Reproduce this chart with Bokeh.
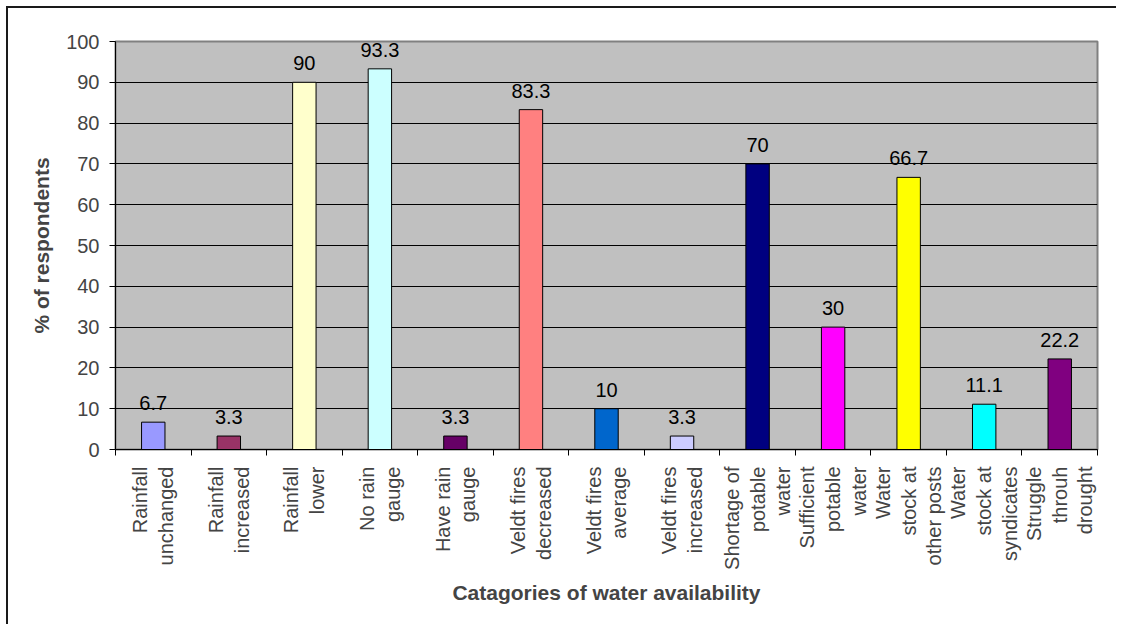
import numpy as np
from bokeh.plotting import figure
from bokeh.core.properties import value
from bokeh.models import (ColumnDataSource, FactorRange, Range1d, LinearAxis,
                          CategoricalAxis, FixedTicker, LabelSet)
from bokeh.embed import file_html
from bokeh.resources import INLINE

# category names as shown on the axis (wrapped like the original)
categories = [
    "Rainfall\nunchanged", "Rainfall\nincreased", "Rainfall\nlower", "No rain\ngauge",
    "Have rain\ngauge", "Veldt fires\ndecreased", "Veldt fires\naverage",
    "Veldt fires\nincreased", "Shortage of\npotable\nwater", "Sufficient\npotable\nwater",
    "Water\nstock at\nother posts", "Water\nstock at\nsyndicates", "Struggle\nthrouh\ndrought",
]
values = [6.7, 3.3, 90, 93.3, 3.3, 83.3, 10, 3.3, 70, 30, 66.7, 11.1, 22.2]
colors = ["#9999FF", "#993366", "#FFFFCC", "#CCFFFF", "#660066", "#FF8080", "#0066CC",
          "#CCCCFF", "#000080", "#FF00FF", "#FFFF00", "#00FFFF", "#800080"]
y_ticks = [0, 10, 20, 30, 40, 50, 60, 70, 80, 90, 100]

FONT = "Liberation Sans"

source = ColumnDataSource(dict(
    cat=categories, val=values, color=colors,
    label=[f"{v:g}" for v in values],
))

p = figure(width=1110, height=618, x_range=FactorRange(*categories),
           y_range=Range1d(0, 100), output_backend="svg", toolbar_location=None,
           x_axis_location=None, min_border_left=107, min_border_top=33,
           min_border_right=21, min_border_bottom=177)
p.styles = {"border-top": "2px solid #1a1a1a", "border-left": "2px solid #1a1a1a",
            "margin-left": "6px", "margin-top": "6px"}

p.background_fill_color = "#C0C0C0"
p.border_fill_color = "white"
p.outline_line_color = "#808080"
p.outline_line_width = 2

p.xgrid.grid_line_color = None
p.ygrid.grid_line_color = "black"
p.ygrid.grid_line_width = 1
p.ygrid.ticker = FixedTicker(ticks=y_ticks)

p.vbar(x="cat", top="val", width=0.31, source=source, fill_color="color",
       line_color="black", line_width=1)

bar_labels = LabelSet(x="cat", y="val", text="label", source=source, text_align="center",
                      text_baseline="bottom", y_offset=12, text_font=value(FONT),
                      text_font_size="20px", text_color="black")
p.add_layout(bar_labels)

# y axis
ya = p.yaxis[0]
ya.ticker = FixedTicker(ticks=y_ticks)
ya.axis_line_color = "black"
ya.major_tick_line_color = "black"
ya.major_tick_out = 6
ya.major_tick_in = 0
ya.minor_tick_line_color = None
ya.major_label_text_font = FONT
ya.major_label_text_font_size = "20px"
ya.major_label_standoff = 10
ya.axis_label = "% of respondents"
ya.axis_label_text_font = FONT
ya.axis_label_text_font_size = "21px"
ya.axis_label_text_font_style = "bold"
ya.axis_label_standoff = 10

# x tick axis: ticks at category boundaries (synthetic coordinates 0..N)
n = len(categories)
tick_axis = LinearAxis(ticker=FixedTicker(ticks=list(range(n + 1))),
                       major_label_overrides={i: "" for i in range(n + 1)},
                       major_label_standoff=0,
                       major_tick_out=6, major_tick_in=0, minor_tick_line_color=None,
                       axis_line_color="black", major_tick_line_color="black")
p.add_layout(tick_axis, "below")

cat_axis = CategoricalAxis(major_tick_line_color=None, axis_line_color=None,
                           major_label_orientation=np.pi / 2,
                           major_label_text_font=FONT, major_label_text_font_size="20px",
                           major_label_text_line_height=1.17,
                           major_label_standoff=5,
                           axis_label="Catagories of water availability",
                           axis_label_text_font=FONT, axis_label_text_font_size="21px",
                           axis_label_text_font_style="bold", axis_label_standoff=8)
p.add_layout(cat_axis, "below")

open("out.html", "w").write(file_html(p, INLINE))
